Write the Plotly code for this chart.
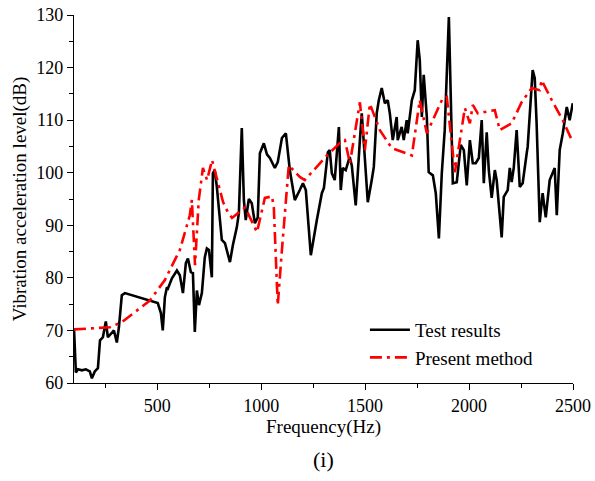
import plotly.graph_objects as go

test_freq = [100, 109, 119, 138, 157, 176, 186, 200, 215, 225, 239, 253, 263, 282, 292, 306, 316, 330, 345,
             503, 518, 527, 537, 547, 552, 571, 595, 609, 624, 638, 648, 662, 672, 681, 691, 701, 715, 729,
             739, 749, 763, 768, 777, 787, 811, 826, 850, 864, 883, 893, 907, 917, 926, 941, 955, 970, 984,
             994, 1013, 1028, 1042, 1066, 1080, 1100, 1119, 1138, 1162, 1186, 1201, 1215, 1239, 1268, 1292,
             1302, 1321, 1330, 1340, 1354, 1364, 1374, 1383, 1393, 1407, 1426, 1436, 1455, 1475, 1484, 1494,
             1513, 1532, 1542, 1556, 1566, 1580, 1595, 1609, 1619, 1633, 1652, 1657, 1676, 1686, 1700, 1705,
             1725, 1739, 1753, 1763, 1773, 1782, 1797, 1806, 1826, 1840, 1855, 1869, 1883, 1903, 1917, 1922,
             1941, 1960, 1975, 1989, 2004, 2018, 2032, 2047, 2061, 2071, 2085, 2095, 2109, 2124, 2133, 2157,
             2167, 2186, 2196, 2205, 2215, 2229, 2244, 2258, 2278, 2282, 2306, 2316, 2325, 2340, 2354, 2369,
             2388, 2412, 2422, 2436, 2451, 2470, 2484, 2494, 2499]
test_level = [70.4, 62.0, 62.6, 62.4, 62.6, 62.2, 60.9, 62.2, 62.8, 68.1, 68.7, 71.7, 68.7, 69.6, 70.0, 67.7,
              70.6, 76.7, 77.1, 75.2, 73.3, 70.0, 76.3, 78.2, 78.0, 79.9, 81.4, 80.5, 77.1, 82.8, 83.7, 81.1,
              80.9, 69.7, 77.6, 74.8, 77.1, 83.9, 85.6, 85.3, 80.1, 99.9, 100.5, 97.3, 87.2, 86.6, 83.0, 86.2,
              89.6, 92.3, 108.5, 94.8, 91.0, 95.0, 94.2, 90.4, 91.5, 103.7, 105.6, 103.5, 102.8, 100.9, 102.0,
              106.6, 107.5, 100.5, 94.8, 96.7, 98.0, 96.7, 84.3, 91.0, 96.1, 97.1, 103.9, 104.3, 99.9, 98.6,
              103.3, 108.7, 96.7, 100.9, 100.5, 103.0, 101.4, 93.8, 106.2, 111.3, 105.6, 94.4, 98.6, 101.1,
              111.3, 113.8, 116.1, 113.2, 113.8, 111.3, 106.2, 110.6, 106.2, 108.7, 106.2, 110.0, 107.5, 113.8,
              115.7, 125.2, 121.4, 110.6, 118.6, 110.6, 100.1, 99.5, 96.1, 87.5, 99.9, 108.1, 129.6, 108.7,
              98.0, 98.2, 105.3, 104.3, 97.6, 106.2, 101.8, 101.8, 102.8, 110.0, 98.0, 107.7, 100.5, 95.2,
              100.5, 98.6, 87.7, 95.4, 96.7, 100.9, 98.2, 100.9, 108.1, 97.3, 98.0, 103.9, 104.9, 119.5, 118.0,
              109.4, 90.6, 96.1, 91.5, 98.6, 100.9, 91.9, 104.3, 107.5, 112.5, 110.0, 112.5, 113.2]

# Present method (computed)
calc_freq = [100, 273, 331, 465, 537, 609, 657, 667, 682, 700, 720, 740, 764, 817, 840, 860, 923, 980, 1018,
             1052, 1061, 1080, 1100, 1133, 1186, 1210, 1317, 1393, 1403, 1427, 1475, 1499, 1523, 1571, 1628,
             1725, 1763, 1797, 1874, 1893, 1932, 1980, 2004, 2018, 2042, 2124, 2148, 2205, 2253, 2301, 2340,
             2349, 2398, 2451, 2499]
calc_level = [70.2, 70.6, 71.6, 75.7, 79.6, 85.3, 91.9, 94.8, 82.4, 94.8, 100.9, 98.6, 102.4, 94.4, 92.5,
              91.4, 93.4, 88.7, 95.2, 95.5, 93.4, 74.8, 85.3, 101.4, 99.2, 98.6, 103.3, 106.2, 106.2, 101.8,
              113.4, 104.3, 113.1, 108.1, 104.7, 103.3, 113.8, 107.5, 114.2, 114.4, 100.1, 112.3, 109.4, 112.9,
              111.3, 111.9, 108.1, 109.4, 113.4, 116.1, 115.7, 117.6, 113.8, 110.0, 105.8]

FONT = "Liberation Serif, Times New Roman, serif"

fig = go.Figure()
fig.add_trace(go.Scatter(x=test_freq, y=test_level, mode="lines", name="Test results",
                         line=dict(color="black", width=2.6)))
fig.add_trace(go.Scatter(x=calc_freq, y=calc_level, mode="lines", name="Present method",
                         line=dict(color="#ff0000", width=2.6, dash="12px,5px,3px,5px")))

axis_style = dict(showline=True, linecolor="black", linewidth=1.2, ticks="outside", ticklen=6,
                  tickcolor="black", tickwidth=1.2, showgrid=False, zeroline=False, mirror=False,
                  automargin=False, tickfont=dict(family=FONT, size=18, color="black"))

fig.update_layout(
    width=595, height=481,
    margin=dict(l=74, r=22, t=15, b=98),
    paper_bgcolor="white", plot_bgcolor="white",
    font=dict(family=FONT, size=18, color="black"),
    xaxis=dict(range=[100, 2500], tick0=0, dtick=500,
               minor=dict(dtick=250, ticklen=4, tickcolor="black", tickwidth=1.2, ticks="outside"),
               title=dict(text="Frequency(Hz)", font=dict(family=FONT, size=19), standoff=3),
               **axis_style),
    yaxis=dict(range=[60, 130], dtick=10,
               minor=dict(dtick=5, ticklen=4, tickcolor="black", tickwidth=1.2, ticks="outside"),
               title=dict(text="Vibration acceleration level(dB)", font=dict(family=FONT, size=19), standoff=4),
               **axis_style),
    legend=dict(x=0.583, y=0.196, xanchor="left", yanchor="top", bgcolor="rgba(0,0,0,0)",
                font=dict(family=FONT, size=19), tracegroupgap=0, itemwidth=40),
    annotations=[dict(text="(i)", x=0.5, y=-0.208, xref="paper", yref="paper", showarrow=False,
                      xanchor="center", yanchor="middle", font=dict(family=FONT, size=22))],
)

# drop the default 8px body margin so the figure sits at the page corner
fig.write_html("out.html", config={"displayModeBar": False},
               post_script="document.body.style.margin='0';")
